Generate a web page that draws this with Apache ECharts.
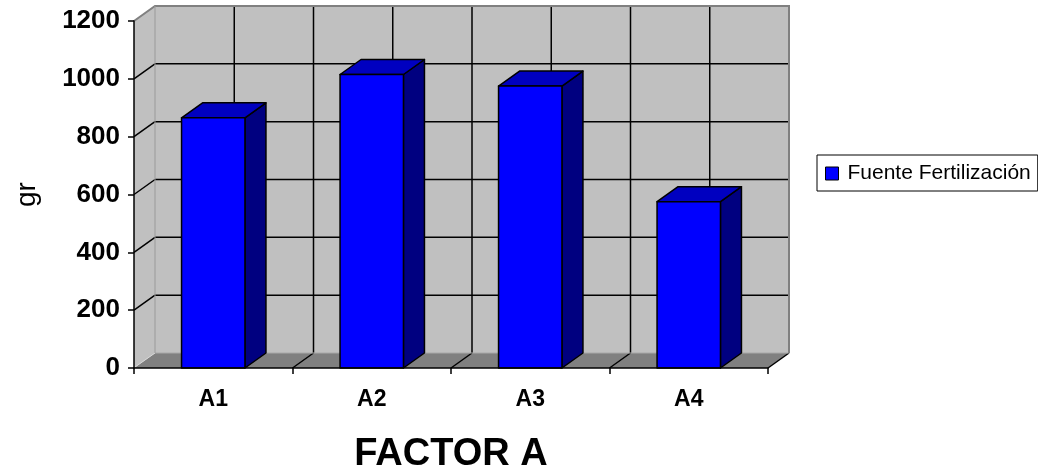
<!DOCTYPE html>
<html>
<head>
<meta charset="utf-8">
<script src="https://cdn.jsdelivr.net/npm/echarts@6/dist/echarts.min.js"></script>
<style>
  html, body { margin: 0; padding: 0; background: #fff; }
  #chart { width: 1038px; height: 471px; }
</style>
</head>
<body>
<div id="chart"></div>
<script>
// data
const categories = ['A1', 'A2', 'A3', 'A4'];
const values = [865, 1015, 975, 575];
const yTicks = [0, 200, 400, 600, 800, 1000, 1200];
const seriesName = 'Fuente Fertilización';

// 3d depth offset (px)
const DX = 21;
const DY = -15;

const chart = echarts.init(document.getElementById('chart'));

// back wall, side wall, floor and gridlines
function renderWalls(params, api) {
  const band = api.size([1, 0])[0];
  const yMax = yTicks[yTicks.length - 1];
  const left = api.coord([0, 0])[0] - band / 2;
  const right = api.coord([categories.length - 1, 0])[0] + band / 2;
  const yBase = api.coord([0, 0])[1];
  const yTop = api.coord([0, yMax])[1];
  const children = [];
  const line = (x1, y1, x2, y2, color, w) => ({
    type: 'line',
    shape: { x1, y1, x2, y2 },
    style: { stroke: color, lineWidth: w }
  });
  // back wall
  children.push({
    type: 'rect',
    shape: { x: left + DX, y: yTop + DY, width: right - left, height: yBase - yTop },
    style: { fill: '#c0c0c0' }
  });
  // left side wall
  children.push({
    type: 'polygon',
    shape: { points: [[left, yBase], [left + DX, yBase + DY], [left + DX, yTop + DY], [left, yTop]] },
    style: { fill: '#c0c0c0' }
  });
  // floor
  children.push({
    type: 'polygon',
    shape: { points: [[left, yBase], [right, yBase], [right + DX, yBase + DY], [left + DX, yBase + DY]] },
    style: { fill: '#808080' }
  });
  // horizontal gridlines + diagonals on side wall
  yTicks.forEach(v => {
    const y = api.coord([0, v])[1];
    if (v > 0 && v < yMax) {
      children.push(line(left + DX, y + DY, right + DX, y + DY, '#000', 1.5));
      children.push(line(left, y, left + DX, y + DY, '#000', 1.5));
    }
  });
  // vertical gridlines on back wall (every half category)
  for (let i = 1; i < categories.length * 2; i++) {
    const x = left + DX + i * band / 2;
    children.push(line(x, yTop + DY, x, yBase + DY, '#000', 1.5));
  }
  // floor diagonals at category boundaries
  for (let i = 1; i < categories.length; i++) {
    const x = left + i * band;
    children.push(line(x, yBase, x + DX, yBase + DY, '#000', 1.5));
  }
  children.push(line(right, yBase, right + DX, yBase + DY, '#000', 1.5));
  // light edges at floor
  children.push(line(left + 1, yBase - 1, left + DX, yBase + DY, '#d8d8d8', 1));
  children.push(line(left + DX, yBase + DY, right + DX, yBase + DY, '#a8a8a8', 1));
  // grey outline of the walls
  children.push({
    type: 'polyline',
    shape: { points: [[left, yTop], [left + DX, yTop + DY], [right + DX, yTop + DY], [right + DX, yBase + DY]] },
    style: { stroke: '#808080', lineWidth: 2, fill: null }
  });
  children.push(line(left + DX, yTop + DY, left + DX, yBase + DY, '#9a9a9a', 1));
  return { type: 'group', children };
}

function renderBar(params, api) {
  const idx = api.value(0);
  const val = api.value(1);
  const top = api.coord([idx, val]);
  const base = api.coord([idx, 0]);
  const w = api.size([1, 0])[0] * 0.4;
  const x0 = top[0] - w / 2;
  const x1 = top[0] + w / 2;
  const yT = top[1];
  const yB = base[1];
  const stroke = { stroke: '#000', lineWidth: 1.5, lineJoin: 'round' };
  return {
    type: 'group',
    children: [
      {
        type: 'polygon',
        shape: { points: [[x1, yT], [x1 + DX, yT + DY], [x1 + DX, yB + DY], [x1, yB]] },
        style: Object.assign({ fill: '#000080' }, stroke)
      },
      {
        type: 'polygon',
        shape: { points: [[x0, yT], [x0 + DX, yT + DY], [x1 + DX, yT + DY], [x1, yT]] },
        style: Object.assign({ fill: '#0000c0' }, stroke)
      },
      {
        type: 'rect',
        shape: { x: x0, y: yT, width: w, height: yB - yT },
        style: Object.assign({ fill: '#0000ff' }, stroke)
      }
    ]
  };
}

const option = {
  animation: false,
  backgroundColor: '#fff',
  textStyle: { fontFamily: 'Liberation Sans, Arial, sans-serif' },
  grid: { left: 134, top: 21, width: 634, height: 347, outerBoundsMode: 'none' },
  legend: {
    data: [{ name: seriesName, icon: 'rect' }],
    left: 817,
    top: 155,
    orient: 'vertical',
    padding: [8, 7, 7, 8],
    itemWidth: 13,
    itemHeight: 13,
    backgroundColor: '#fff',
    borderColor: '#000',
    borderWidth: 1,
    borderRadius: 0,
    itemStyle: { borderColor: '#000', borderWidth: 1 },
    textStyle: { fontSize: 21, color: '#000', padding: [0, 0, 0, 4] }
  },
  xAxis: {
    type: 'category',
    data: categories,
    z: 10,
    name: 'FACTOR A',
    nameLocation: 'middle',
    nameGap: 68,
    nameTextStyle: { fontSize: 38, fontWeight: 'bold', color: '#000' },
    axisLine: { lineStyle: { color: '#000', width: 1.5 } },
    axisTick: { show: true, length: 6, lineStyle: { color: '#000', width: 1.5 } },
    axisLabel: { fontSize: 23, fontWeight: 'bold', color: '#000', margin: 20 },
    splitLine: { show: false }
  },
  yAxis: {
    type: 'value',
    min: 0,
    max: 1200,
    interval: 200,
    z: 10,
    name: 'gr',
    nameLocation: 'middle',
    nameRotate: 90,
    nameGap: 93,
    nameTextStyle: { fontSize: 28, color: '#000' },
    axisLine: { show: true, lineStyle: { color: '#000', width: 1.5 } },
    axisTick: { show: true, length: 6, lineStyle: { color: '#000', width: 1.5 } },
    axisLabel: { fontSize: 26, fontWeight: 'bold', color: '#000', margin: 14, formatter: v => String(v) },
    splitLine: { show: false }
  },
  series: [
    {
      name: 'walls',
      type: 'custom',
      z: 1,
      silent: true,
      renderItem: renderWalls,
      data: [[0, 0]]
    },
    {
      name: seriesName,
      type: 'custom',
      z: 2,
      itemStyle: { color: '#0000ff' },
      renderItem: renderBar,
      encode: { x: 0, y: 1 },
      data: values.map((v, i) => [i, v])
    }
  ]
};

chart.setOption(option);
</script>
</body>
</html>
